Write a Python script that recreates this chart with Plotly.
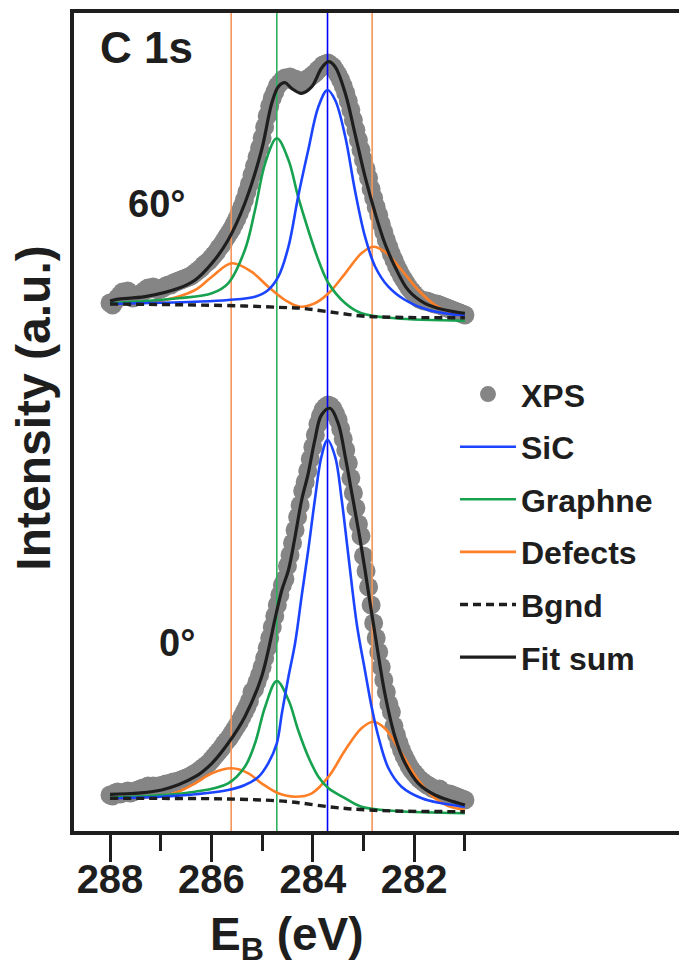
import plotly.graph_objects as go

# ---------------- data (binding energy in eV, intensity in a.u.) ----------------
XPS_E = [288.00, 287.95, 287.90, 287.85, 287.80, 287.75, 287.70, 287.65, 287.60, 287.55,
         287.50, 287.45, 287.40, 287.35, 287.30, 287.25, 287.20, 287.15, 287.10, 287.05,
         287.00, 286.95, 286.90, 286.85, 286.80, 286.75, 286.70, 286.65, 286.60, 286.55,
         286.50, 286.45, 286.40, 286.35, 286.30, 286.25, 286.20, 286.15, 286.10, 286.05,
         286.00, 285.95, 285.90, 285.85, 285.80, 285.75, 285.70, 285.65, 285.60, 285.55,
         285.50, 285.45, 285.40, 285.35, 285.30, 285.25, 285.20, 285.15, 285.10, 285.05,
         285.00, 284.95, 284.90, 284.85, 284.80, 284.75, 284.70, 284.65, 284.60, 284.55,
         284.50, 284.45, 284.40, 284.35, 284.30, 284.25, 284.20, 284.15, 284.10, 284.05,
         284.00, 283.95, 283.90, 283.85, 283.80, 283.75, 283.70, 283.65, 283.60, 283.55,
         283.50, 283.45, 283.40, 283.35, 283.30, 283.25, 283.20, 283.15, 283.10, 283.05,
         283.00, 282.95, 282.90, 282.85, 282.80, 282.75, 282.70, 282.65, 282.60, 282.55,
         282.50, 282.45, 282.40, 282.35, 282.30, 282.25, 282.20, 282.15, 282.10, 282.05,
         282.00, 281.95, 281.90, 281.85, 281.80, 281.75, 281.70, 281.65, 281.60, 281.55,
         281.50, 281.45, 281.40, 281.35, 281.30, 281.25, 281.20, 281.15, 281.10, 281.05,
         281.00]

XPS_60 = [48, 46, 50, 53, 56, 59, 58, 60, 56, 53,
          54, 56, 57, 59, 61, 63, 62, 64, 63, 61,
          62, 63, 65, 66, 66, 68, 69, 70, 71, 72,
          73, 74, 75, 77, 79, 81, 83, 86, 88, 90,
          93, 96, 99, 103, 106, 110, 114, 118, 122, 127,
          132, 138, 144, 151, 159, 167, 176, 185, 194, 203,
          213, 224, 235, 245, 253, 259, 265, 268, 271, 273,
          272, 274, 271, 272, 269, 270, 268, 271, 272, 274,
          276, 278, 281, 283, 286, 287, 288, 286, 284, 280,
          276, 271, 265, 258, 250, 241, 231, 221, 211, 201,
          191, 182, 173, 162, 153, 144, 136, 127, 119, 111,
          104, 97, 91, 85, 80, 75, 71, 67, 63, 60,
          57, 54, 52, 51, 50, 50, 49, 48, 47, 47,
          46, 45, 44, 43, 42, 41, 40, 39, 38, 37,
          36]

XPS_0 = [36, 35, 38, 39, 37, 38, 39, 40, 38, 39,
         40, 41, 42, 43, 43, 45, 44, 45, 44, 45,
         45, 46, 47, 47, 48, 49, 49, 50, 51, 52,
         53, 54, 55, 57, 58, 60, 62, 64, 66, 68,
         71, 74, 77, 80, 83, 87, 90, 93, 97, 101,
         105, 109, 114, 119, 124, 130, 139, 142, 149, 156,
         164, 173, 183, 193, 204, 215, 226, 236, 246, 252,
         265, 276, 288, 301, 314, 326, 340, 349, 360, 372,
         384, 396, 407, 415, 421, 424, 426, 425, 422, 417,
         411, 402, 392, 381, 368, 353, 338, 323, 307, 295,
         275, 260, 244, 226, 208, 193, 179, 164, 151, 139,
         127, 119, 105, 96, 88, 81, 75, 70, 65, 61,
         58, 55, 52, 50, 48, 46, 45, 43, 42, 41,
         42, 39, 38, 37, 37, 36, 35, 34, 33, 32,
         31]

# ---- 0 deg fit components ----
SIC_0_E = [288.0, 286.98, 286.32, 285.67, 285.34, 285.07, 284.88, 284.71, 284.61, 284.48,
           284.35, 284.22, 284.09, 283.96, 283.83, 283.71, 283.56, 283.43, 283.30, 283.13,
           282.97, 282.84, 282.71, 282.51, 282.25, 281.85, 281.46, 281.0]
SIC_0 = [32.7, 34.3, 36.7, 41, 46, 54.3, 67.7, 87.7, 117.7, 154.3,
         187.7, 235, 281, 331, 374.3, 391, 374.3, 331, 276, 206,
         160, 124, 95, 63, 44.3, 32.7, 27.7, 24.3]

GRA_0_E = [288.0, 286.32, 285.67, 285.34, 285.14, 284.94, 284.71, 284.48, 284.29, 284.09,
           283.89, 283.69, 283.36, 283.04, 282.38, 281.0]
GRA_0 = [33.3, 39.3, 47.7, 64.3, 87.7, 124.3, 150, 131, 101, 74.3,
         54.3, 42.7, 32.7, 24.3, 20, 17.7]

DEF_0_E = [288.0, 286.98, 286.65, 286.32, 285.99, 285.6, 285.27, 285.01, 284.68, 284.35,
           284.02, 283.69, 283.36, 283.04, 282.81, 282.58, 282.25, 281.92, 281.59, 281.33,
           281.0]
DEF_0 = [32.7, 35, 39.3, 47.7, 57.7, 62.7, 57.7, 47.7, 37.7, 34.3,
         37.7, 54.3, 81, 102.7, 109.3, 102.7, 77.7, 51, 32.7, 25,
         21]

BG_0_E = [288.0, 287.0, 286.0, 285.5, 285.0, 284.5, 284.2, 283.7, 283.3, 282.9, 282.4, 281.0]
BG_0 = [32.7, 32.6, 32.3, 31.8, 31, 29.5, 27.7, 24.3, 22.3, 21, 20, 19.3]

FIT_0_E = [288.0, 286.98, 286.32, 285.99, 285.67, 285.34, 285.01, 284.72, 284.61, 284.48,
           284.35, 284.22, 284.09, 283.96, 283.83, 283.66, 283.50, 283.36, 283.23, 283.10,
           282.97, 282.87, 282.77, 282.58, 282.38, 282.18, 281.92, 281.59, 281.33, 281.0]
FIT_0 = [36.7, 41, 54.3, 67.7, 87.7, 114.3, 154.3, 218, 241, 261,
         294.3, 331, 357.7, 391, 416, 422.7, 407.7, 374.3, 337.7, 301,
         261, 227.7, 196, 137.7, 94.3, 67.7, 47.7, 36, 31, 26]

# ---- 60 deg fit components ----
SIC_60_E = [288.0, 286.32, 285.67, 285.14, 284.88, 284.68, 284.48, 284.29, 284.09, 283.89,
            283.71, 283.56, 283.36, 283.17, 282.97, 282.77, 282.51, 282.18, 281.72, 281.0]
SIC_60 = [47, 49.3, 51, 54.3, 61, 74.3, 104.3, 154.3, 201, 244.3,
          261, 251, 214.3, 161, 114.3, 84.3, 64.3, 51, 41, 35.3]

GRA_60_E = [288.0, 286.65, 285.99, 285.67, 285.34, 285.14, 284.94, 284.71, 284.48, 284.29,
            284.09, 283.89, 283.69, 283.36, 283.04, 282.38, 281.0]
GRA_60 = [47.7, 52.7, 57.7, 67.7, 101, 141, 187.7, 212.7, 191, 154.3,
          121, 91, 67.7, 47.7, 37.7, 32.7, 30.3]

DEF_60_E = [288.0, 286.98, 286.32, 285.99, 285.6, 285.21, 284.88, 284.55, 284.25, 283.96,
            283.69, 283.36, 283.04, 282.81, 282.58, 282.25, 281.92, 281.59, 281.26, 281.0]
DEF_60 = [47, 50.3, 61, 74.3, 87.7, 79.3, 64.3, 51, 44.3, 47.7,
          57.7, 77.7, 97.7, 104.3, 99.3, 81, 61, 46, 37.7, 34.3]

BG_60_E = [288.0, 286.32, 285.34, 284.68, 284.22, 283.69, 283.03, 282.38, 281.0]
BG_60 = [47, 46, 45, 43.7, 42.7, 39.3, 35, 33.7, 33.3]

FIT_60_E = [288.0, 287.87, 287.31, 286.65, 286.32, 285.99, 285.67, 285.34, 285.01, 284.81,
            284.68, 284.55, 284.42, 284.22, 284.02, 283.83, 283.69, 283.56, 283.36, 283.17,
            282.97, 282.77, 282.58, 282.38, 282.12, 281.79, 281.39, 281.0]
FIT_60 = [50, 51.7, 54.3, 62.7, 71, 87.7, 111, 147.7, 201, 247.7,
          264.3, 268.3, 262.7, 257.7, 264.3, 282.7, 289.3, 284.3, 257.7, 217.7,
          174.3, 137.7, 107.7, 84.3, 61, 47.7, 41, 37.7]

# peak centre markers (eV) and their component
PEAK_CENTERS = [285.61, 284.71, 283.71, 282.83]
PEAK_KIND = ["Defects", "Graphne", "SiC", "Defects"]

MAJOR_TICKS = [288, 286, 284, 282]
MINOR_TICKS = [287, 285, 283, 281]

assert len(XPS_E) == len(XPS_60) == len(XPS_0)

# ---------------- styling / layout constants ----------------
OFFSET_60 = 480          # vertical stacking offset of the 60 deg spectrum
Y_MAX = 818
X_RANGE = [288.71, 276.62]
FONT = "Liberation Sans, Arial, Helvetica, sans-serif"
INK = "#1e1e1e"
COL = {"XPS": "#858585", "SiC": "#1a44ff", "Graphne": "#17a24f", "Defects": "#ff7f27",
       "Bgnd": INK, "Fit sum": INK}
VCOL = {"SiC": "#0000ff", "Graphne": "#2fb060", "Defects": "#f5955a"}

fig = go.Figure()


def shift(vals, off):
    return [v + off for v in vals]


# XPS data points
for i, (vals, off) in enumerate([(XPS_60, OFFSET_60), (XPS_0, 0)]):
    fig.add_trace(go.Scatter(
        x=XPS_E, y=shift(vals, off), mode="markers", name="XPS",
        legendgroup="XPS", showlegend=(i == 0), legendrank=1,
        marker=dict(size=19, color=COL["XPS"], line=dict(width=0))))

# peak position guide lines
for e, kind in zip(PEAK_CENTERS, PEAK_KIND):
    fig.add_trace(go.Scatter(
        x=[e, e], y=[0, Y_MAX], mode="lines", showlegend=False, hoverinfo="skip",
        line=dict(color=VCOL[kind], width=1.6)))

components = [
    ("Defects", DEF_60_E, DEF_60, DEF_0_E, DEF_0, 4, dict(width=2.6)),
    ("Graphne", GRA_60_E, GRA_60, GRA_0_E, GRA_0, 3, dict(width=2.6)),
    ("SiC", SIC_60_E, SIC_60, SIC_0_E, SIC_0, 2, dict(width=2.6)),
    ("Bgnd", BG_60_E, BG_60, BG_0_E, BG_0, 5, dict(width=3.4, dash="8px,5px")),
    ("Fit sum", FIT_60_E, FIT_60, FIT_0_E, FIT_0, 6, dict(width=3.2)),
]
for name, e60, v60, e0, v0, rank, lstyle in components:
    for i, (ee, vv, off) in enumerate([(e60, v60, OFFSET_60), (e0, v0, 0)]):
        fig.add_trace(go.Scatter(
            x=ee, y=shift(vv, off), mode="lines", name=name,
            legendgroup=name, showlegend=(i == 0), legendrank=rank,
            line=dict(color=COL[name], shape="spline", smoothing=1.0, **lstyle)))

bold = dict(family=FONT, color=INK, weight="bold")

# the page adds an 8 px body margin, so the figure is laid out 8 px smaller
fig.update_layout(
    width=679, height=958,
    margin=dict(l=66, r=0, t=5, b=135),
    paper_bgcolor="white", plot_bgcolor="white",
    showlegend=True,
    legend=dict(x=0.6215, y=0.5675, xanchor="left", yanchor="top",
                font=dict(size=32, **bold), bgcolor="rgba(0,0,0,0)",
                itemwidth=56, tracegroupgap=8, traceorder="grouped"),
    xaxis=dict(range=X_RANGE, showgrid=False, zeroline=False,
               showline=True, mirror=True, linewidth=3.5, linecolor=INK,
               ticks="outside", ticklen=27, tickwidth=3, tickcolor=INK,
               tickmode="array", tickvals=MAJOR_TICKS,
               ticktext=[str(t) for t in MAJOR_TICKS],
               tickfont=dict(size=40, **bold), ticklabelstandoff=-17,
               minor=dict(tickmode="array", tickvals=MINOR_TICKS, ticks="outside",
                          ticklen=16, tickwidth=3, tickcolor=INK, showgrid=False)),
    yaxis=dict(range=[0, Y_MAX], showgrid=False, zeroline=False,
               showline=True, linewidth=3.5, linecolor=INK,
               showticklabels=False, ticks=""),
)

annos = [
    dict(text="C 1s", x=0.118, y=0.958, xref="paper", yref="paper", font=dict(size=44, **bold)),
    dict(text="60°", x=287.08, y=627.5, xref="x", yref="y", font=dict(size=38, **bold)),
    dict(text="0°", x=286.67, y=188, xref="x", yref="y", font=dict(size=38, **bold)),
    dict(text="Intensity (a.u.)", x=-0.066, y=0.517, xref="paper", yref="paper",
         textangle=-90, font=dict(size=48, **bold)),
    dict(text="E<sub>B</sub> (eV)", x=284.5, y=-0.13, xref="x", yref="paper",
         font=dict(size=46, **bold)),
]
for a in annos:
    fig.add_annotation(showarrow=False, xanchor="center", yanchor="middle", **a)

fig.write_html("out.html")
